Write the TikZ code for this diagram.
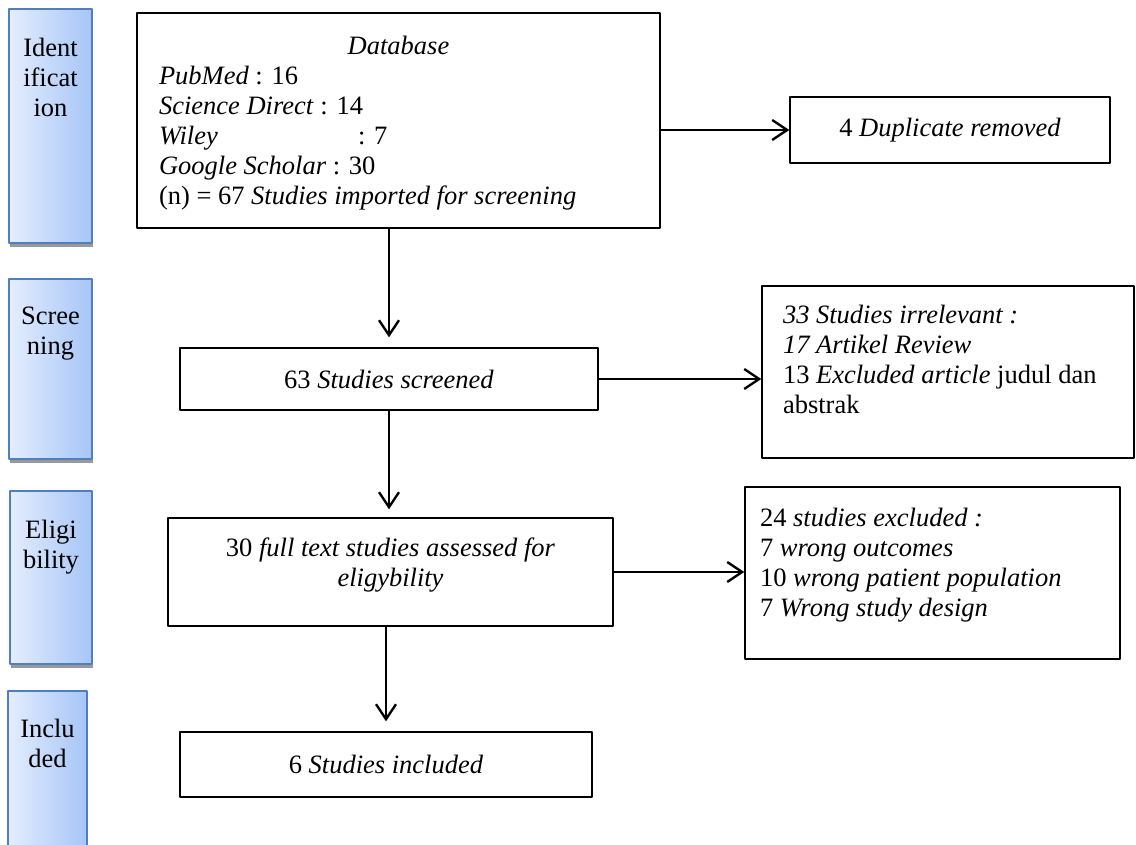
\documentclass[tikz,border=0pt]{standalone}
\usepackage{fontspec}
\setmainfont{Liberation Serif}
\usetikzlibrary{arrows.meta,shadows}
\definecolor{barlight}{HTML}{E4EDFE}
\definecolor{bardark}{HTML}{A6C5F7}
\definecolor{barline}{HTML}{4F7FBE}
\tikzset{
  box/.style={draw, line width=1.3pt, inner sep=0pt, font=\fontsize{26.5}{30}\selectfont},
  bar/.style={draw=barline, line width=1.8pt, left color=barlight, right color=bardark,
    inner sep=0pt, font=\fontsize{26.5}{30}\selectfont},
  barshade/.style={drop shadow={shadow xshift=0.5pt,shadow yshift=-4pt,fill=black!40,opacity=1}},
  link/.style={-{Straight Barb[length=15pt,width=20pt]}, line width=2.4pt},
}
\begin{document}
\begin{tikzpicture}[x=1pt,y=-1pt,line join=round]
    \useasboundingbox[fill=white] (0,0) rectangle (1136,845);
    % stage bars
    \node[bar,barshade] (ident) at (50.5,126) {\parbox[c][234pt][t]{83pt}{\centering\vspace*{29pt}Ident\\ificat\\ion}};
    \node[bar,barshade] (screen) at (50.5,369) {\parbox[c][180pt][t]{83pt}{\centering\vspace*{28pt}Scree\\ning}};
    \node[bar,barshade] (elig) at (51,577.5) {\parbox[c][173pt][t]{82pt}{\centering\vspace*{29pt}Eligi\\bility}};
    \node[bar] (inclbar) at (47.5,771) {\parbox[c][160pt][t]{79pt}{\centering\vspace*{28pt}Inclu\\ded}};
    % flow boxes
    \node[box,inner xsep=22pt] (db) at (398.5,120.5) {\parbox[c][215pt][t]{479pt}{\vspace*{23pt}\centering\textit{Database}\par
        \raggedright\textit{PubMed} : 16\\
        \textit{Science Direct} : 14\\
        \makebox[199pt][l]{\textit{Wiley}}: 7\\
        \textit{Google Scholar} : 30\\
        (n) = 67 \textit{Studies imported for screening}}};
    \node[box,minimum width=320pt,minimum height=66pt] (dup) at (950,130) {4 \textit{Duplicate removed}};
    \node[box,minimum width=418pt,minimum height=62pt] (scr) at (389,379) {63 \textit{Studies screened}};
    \node[box,inner xsep=21pt] (irrel) at (948,372) {\parbox[c][172pt][t]{330pt}{\raggedright\vspace*{19pt}\textit{33 Studies irrelevant :}\\
        \textit{17 Artikel Review}\\
        13 \textit{Excluded article} judul dan\\
        abstrak}};
    \node[box] (full) at (390.5,572) {\parbox[c][108pt][t]{445pt}{\centering\vspace*{20pt}30 \textit{full text studies assessed for}\\ \textit{eligybility}}};
    \node[box,inner xsep=15pt] (excl) at (932.5,573) {\parbox[c][172pt][t]{345pt}{\raggedright\vspace*{21pt}24 \textit{studies excluded :}\\
        7 \textit{wrong outcomes}\\
        10 \textit{wrong patient population}\\
        7 \textit{Wrong study design}}};
    \node[box,minimum width=412pt,minimum height=65pt] (incl) at (386,764.5) {6 \textit{Studies included}};
    % connectors
    \draw[link] (db.east |- dup.west) -- (dup.west);
    \draw[link,shorten >=10pt] (scr.north |- db.south) -- (scr.north);
    \draw[link] (scr.east) -- (irrel.west |- scr.east);
    \draw[link,shorten >=8pt] (scr.south) -- (scr.south |- full.north);
    \draw[link] (full.east) -- (excl.west |- full.east);
    \draw[link,shorten >=10pt] (incl.north |- full.south) -- (incl.north);
\end{tikzpicture}
\end{document}
